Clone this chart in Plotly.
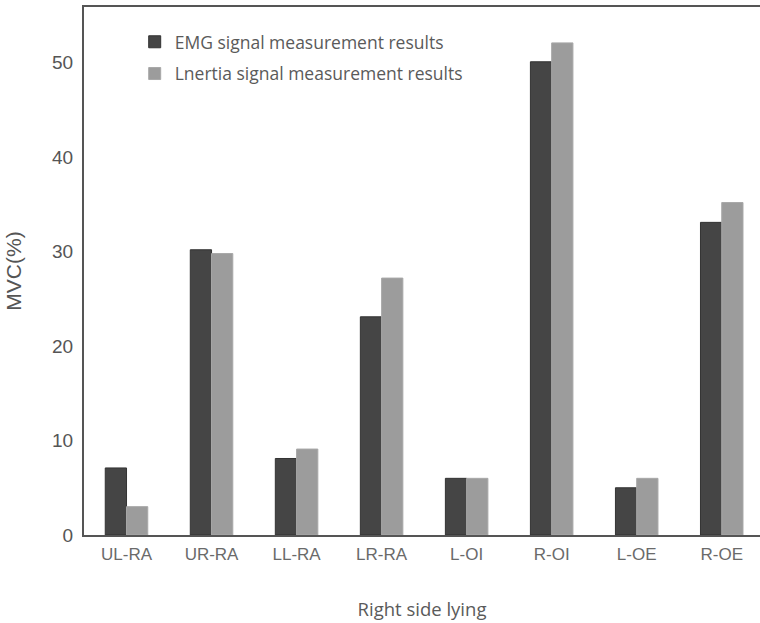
import plotly.graph_objects as go

categories = ["UL-RA", "UR-RA", "LL-RA", "LR-RA", "L-OI", "R-OI", "L-OE", "R-OE"]
emg_values = [7.1, 30.2, 8.1, 23.1, 6.0, 50.1, 5.0, 33.1]
inertia_values = [3.0, 29.8, 9.1, 27.2, 6.0, 52.1, 6.0, 35.2]
series_names = ["EMG signal measurement results", "Lnertia signal measurement results"]
y_ticks = [0, 10, 20, 30, 40, 50]

FONT = "'Open Sans', sans-serif"
ARIAL = "'Liberation Sans', Arial, sans-serif"
TXT = "#5a5a5a"

fig = go.Figure()
fig.add_trace(go.Bar(
    x=categories, y=emg_values, name=series_names[0],
    marker=dict(color="#454545", line=dict(color="#333333", width=1)),
    legendgroup="a",
))
fig.add_trace(go.Bar(
    x=categories, y=inertia_values, name=series_names[1],
    marker=dict(color="#9c9c9c", line=dict(color="#a8a8a8", width=1)),
    legendgroup="b",
))

fig.update_layout(
    width=760, height=623,
    margin=dict(l=84, r=0, t=7, b=88),
    paper_bgcolor="white", plot_bgcolor="white",
    barmode="group", bargap=0.5, bargroupgap=0,
    font=dict(family=FONT, color=TXT, size=15),
    showlegend=True,
    legend=dict(
        x=0.075, y=0.968, xanchor="left", yanchor="top",
        bgcolor="rgba(0,0,0,0)", font=dict(size=17.5, color=TXT),
        traceorder="grouped", tracegroupgap=6, itemwidth=30,
    ),
    xaxis=dict(
        range=[-0.5, 7.45], showline=True, linecolor="#555555", linewidth=2,
        mirror=True, ticks="", ticklen=0, ticklabelstandoff=3, showgrid=False, zeroline=False,
        tickfont=dict(family=ARIAL, size=17, color="#6a6a6a"),
        title=dict(text="Right side lying", font=dict(size=18.5, color=TXT), standoff=40),
    ),
    yaxis=dict(
        range=[0, 55.9], tickvals=y_ticks, showline=True, linecolor="#555555", linewidth=2,
        ticks="", ticklen=0, ticklabelstandoff=5, showgrid=False, zeroline=False,
        tickfont=dict(family=ARIAL, size=19, color="#555555"),
        title=dict(text="MVC(%)", font=dict(family=ARIAL, size=21, color="#555555"), standoff=25),
    ),
)

fig.write_html("out.html")
